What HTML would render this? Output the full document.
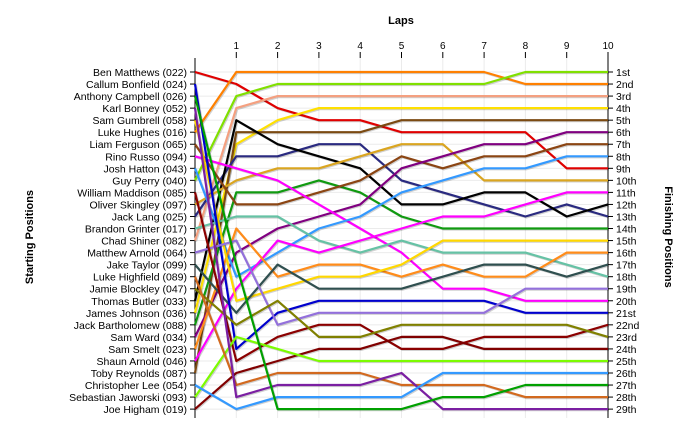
<!DOCTYPE html>
<html><head><meta charset="utf-8"><style>
body{margin:0;background:#fff;font-family:"Liberation Sans",sans-serif}
svg text{font-family:"Liberation Sans",sans-serif}
</style></head><body>
<svg id="chart" width="700" height="435" xmlns="http://www.w3.org/2000/svg">
<rect width="700" height="435" fill="#fff"/>
<text x="401" y="24" font-size="11" font-weight="bold" text-anchor="middle">Laps</text>
<text transform="translate(33,237) rotate(-90)" font-size="11" font-weight="bold" text-anchor="middle">Starting Positions</text>
<text transform="translate(665,237) rotate(90)" font-size="11" font-weight="bold" text-anchor="middle">Finishing Positions</text>
<g id="grid"></g><g id="axes"></g><g id="series"></g>
</svg>
<script>
const laps = [0,1,2,3,4,5,6,7,8,9,10];
const drivers = ["Ben Matthews (022)","Callum Bonfield (024)","Anthony Campbell (026)","Karl Bonney (052)","Sam Gumbrell (058)","Luke Hughes (016)","Liam Ferguson (065)","Rino Russo (094)","Josh Hatton (043)","Guy Perry (040)","William Maddison (085)","Oliver Skingley (097)","Jack Lang (025)","Brandon Grinter (017)","Chad Shiner (082)","Matthew Arnold (064)","Jake Taylor (099)","Luke Highfield (089)","Jamie Blockley (047)","Thomas Butler (033)","James Johnson (036)","Jack Bartholomew (088)","Sam Ward (034)","Sam Smelt (023)","Shaun Arnold (046)","Toby Reynolds (087)","Christopher Lee (054)","Sebastian Jaworski (093)","Joe Higham (019)"];
const finishLabels = ["1st","2nd","3rd","4th","5th","6th","7th","8th","9th","10th","11th","12th","13th","14th","15th","16th","17th","18th","19th","20th","21st","22nd","23rd","24th","25th","26th","27th","28th","29th"];
const seriesColors = ["#e00000","#ff8000","#80e000","#f4a080","#ffe000","#7b4a12","#2a2a80","#000000","#daa520","#109a10","#8b4513","#800080","#ff00ff","#3399ff","#66c2a5","#ff00ff","#ff8c1a","#ffd700","#2f4f4f","#0000cd","#9370db","#8b0000","#808000","#800000","#7cfc00","#d2691e","#7b1fa2","#3399ff","#00a000"];
const s0 = [1,2,4,5,5,6,6,6,6,9,9];
const s1 = [6,1,1,1,1,1,1,1,2,2,2];
const s2 = [10,3,2,2,2,2,2,2,1,1,1];
const s3 = [15,4,3,3,3,3,3,3,3,3,3];
const s4 = [21,7,5,4,4,4,4,4,4,4,4];
const s5 = [26,6,6,6,6,5,5,5,5,5,5];
const s6 = [13,8,8,7,7,10,11,12,13,12,13];
const s7 = [20,5,7,8,9,12,12,11,11,13,12];
const s8 = [12,10,9,9,8,7,7,10,10,10,10];
const s9 = [22,11,11,10,11,13,14,14,14,14,14];
const s10 = [7,12,12,11,10,8,9,8,8,7,7];
const s11 = [23,16,14,13,12,9,8,7,7,6,6];
const s12 = [8,9,10,12,14,16,19,19,20,20,20];
const s13 = [9,18,16,14,13,11,10,9,9,8,8];
const s14 = [14,13,13,15,16,15,16,16,16,17,18];
const s15 = [25,19,15,16,15,14,13,13,12,11,11];
const s16 = [24,14,18,17,17,18,17,18,18,16,16];
const s17 = [5,20,19,18,18,17,15,15,15,15,15];
const s18 = [17,21,17,19,19,19,18,17,17,18,17];
const s19 = [2,24,21,20,20,20,20,20,21,21,21];
const s20 = [16,15,22,21,21,21,21,21,19,19,19];
const s21 = [11,25,23,22,22,24,24,23,23,23,22];
const s22 = [19,22,20,23,23,22,22,22,22,22,23];
const s23 = [29,26,25,24,24,23,23,24,24,24,24];
const s24 = [28,23,24,25,25,25,25,25,25,25,25];
const s25 = [18,27,26,26,26,27,27,27,28,28,28];
const s26 = [4,28,27,27,27,26,29,29,29,29,29];
const s27 = [27,29,28,28,28,28,26,26,26,26,26];
const s28 = [3,17,29,29,29,29,28,28,27,27,27];
const allSeries = [s0,s1,s2,s3,s4,s5,s6,s7,s8,s9,s10,s11,s12,s13,s14,s15,s16,s17,s18,s19,s20,s21,s22,s23,s24,s25,s26,s27,s28];

const NS="http://www.w3.org/2000/svg";
const X0=195,X1=608,Y0=72,YSTEP=12.04,TOP=58,BOT=418;
function xs(l){return X0+(X1-X0)*l/10;}
function ys(p){return Y0+(p-1)*YSTEP;}
function mk(tag,parent){const e=document.createElementNS(NS,tag);parent.appendChild(e);return e;}
const grid=document.getElementById('grid'),axes=document.getElementById('axes'),ser=document.getElementById('series');
const bg=mk('rect',grid);


bg.setAttribute('x',X0);bg.setAttribute('y',TOP);bg.setAttribute('width',X1-X0);bg.setAttribute('height',BOT-TOP);bg.setAttribute('fill','#fff');
for(let p=1;p<=29;p++){
  const g=mk('line',grid);
  
  
  g.setAttribute('x1',X0);g.setAttribute('x2',X1);g.setAttribute('y1',ys(p));g.setAttribute('y2',ys(p));g.setAttribute('stroke','#ebebeb');
}
laps.forEach(l=>{
  if(l===0)return;
  const g=mk('line',grid);
  
  
  g.setAttribute('x1',xs(l));g.setAttribute('x2',xs(l));g.setAttribute('y1',TOP);g.setAttribute('y2',BOT);g.setAttribute('stroke','#ebebeb');
  const t=mk('line',axes);
  
  
  t.setAttribute('x1',xs(l));t.setAttribute('x2',xs(l));t.setAttribute('y1',52);t.setAttribute('y2',58);t.setAttribute('stroke','#000');
  const tx=mk('text',axes);
  
  
  tx.setAttribute('x',xs(l));tx.setAttribute('y',49);tx.setAttribute('font-size','10');tx.setAttribute('text-anchor','middle');tx.textContent=l;
});
[[X0,'left'],[X1,'right']].forEach(([x,n])=>{
  const a=mk('line',axes);
  
  
  a.setAttribute('x1',x);a.setAttribute('x2',x);a.setAttribute('y1',TOP);a.setAttribute('y2',BOT);a.setAttribute('stroke','#000');
});
drivers.forEach((d,i)=>{
  const y=ys(i+1);
  const t=mk('line',axes);
  
  
  t.setAttribute('x1',X0-5);t.setAttribute('x2',X0);t.setAttribute('y1',y);t.setAttribute('y2',y);t.setAttribute('stroke','#000');
  const tx=mk('text',axes);
  
  
  tx.setAttribute('x',X0-8);tx.setAttribute('y',y+4);tx.setAttribute('font-size','10.5');tx.setAttribute('text-anchor','end');tx.textContent=d;
});
finishLabels.forEach((f,i)=>{
  const y=ys(i+1);
  const t=mk('line',axes);
  
  
  t.setAttribute('x1',X1);t.setAttribute('x2',X1+5);t.setAttribute('y1',y);t.setAttribute('y2',y);t.setAttribute('stroke','#000');
  const tx=mk('text',axes);
  
  
  tx.setAttribute('x',X1+8);tx.setAttribute('y',y+4);tx.setAttribute('font-size','10.5');tx.textContent=f;
});
allSeries.forEach((s,i)=>{
  const pts=s.map((p,l)=>xs(laps[l]).toFixed(1)+','+ys(p).toFixed(1)).join(' ');
  const sh=mk('polyline',ser);
  
  
  sh.setAttribute('points',pts);sh.setAttribute('fill','none');sh.setAttribute('stroke','rgba(0,0,0,0.18)');sh.setAttribute('stroke-width','2.2');sh.setAttribute('transform','translate(1,1)');
  const pl=mk('polyline',ser);
  
  
  pl.setAttribute('points',pts);pl.setAttribute('fill','none');pl.setAttribute('stroke',seriesColors[i]);pl.setAttribute('stroke-width','2.2');pl.setAttribute('stroke-linejoin','round');
});
</script>
</body></html>
